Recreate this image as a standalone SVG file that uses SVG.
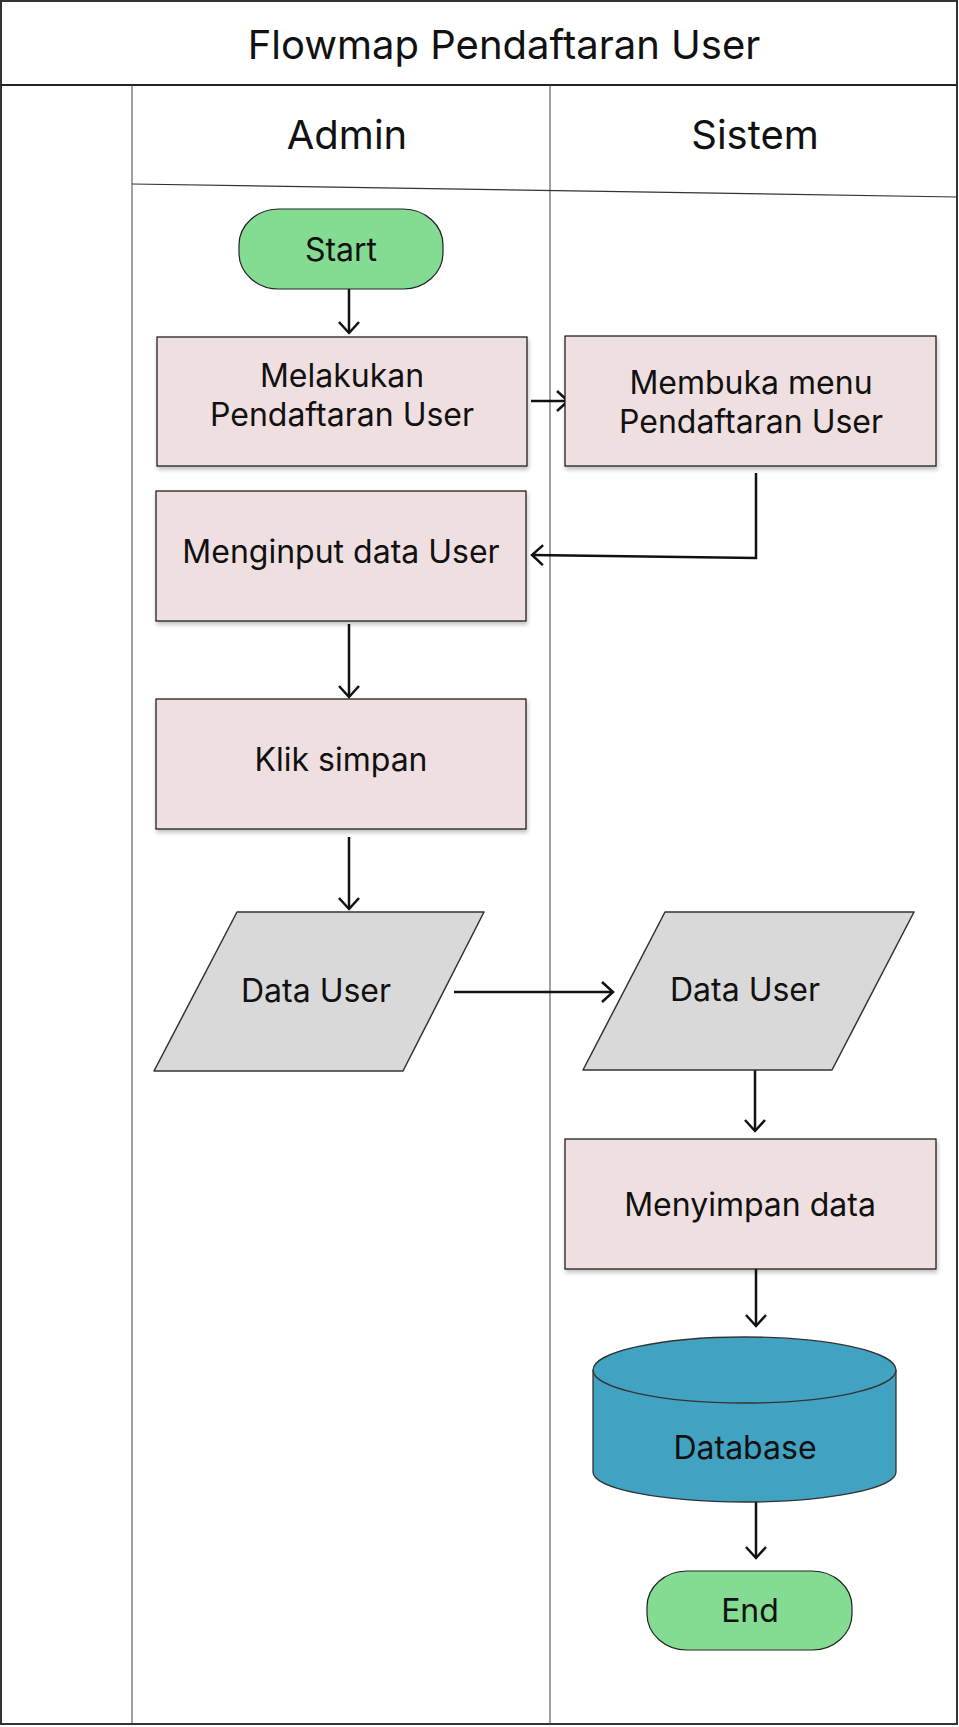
<svg xmlns="http://www.w3.org/2000/svg" width="959" height="1727" viewBox="0 0 959 1727">
<style>
.t{font-family:Inter,"Liberation Sans",sans-serif;fill:#111;text-anchor:middle}
.b{font-size:32px}
.h{font-size:40px}
.proc{fill:#efdfe0;stroke:#111;stroke-width:1.2}
.term{fill:#84dc92;stroke:#222;stroke-width:1.2}
.io{fill:#d9d9d9;stroke:#333;stroke-width:1.5;stroke-linejoin:round}
.db{fill:#42a2c2;stroke:#333;stroke-width:1.3}
.c{fill:none;stroke:#111;stroke-width:2.5}
.ln{stroke:#444;stroke-width:1;fill:none}
</style>
<defs>
<marker id="arr" viewBox="0 0 24 24" refX="13" refY="12" markerWidth="24" markerHeight="24" markerUnits="userSpaceOnUse" orient="auto">
<path d="M2,2 L13,12 L2,22" fill="none" stroke="#111" stroke-width="2.5"/>
</marker>
<filter id="sh" x="-5%" y="-5%" width="115%" height="120%">
<feDropShadow dx="1" dy="3" stdDeviation="2" flood-color="#000" flood-opacity="0.25"/>
</filter>
</defs>
<rect width="959" height="1727" fill="#fff"/>
<g id="frame">
<rect x="1" y="1" width="956" height="1723" fill="none" stroke="#333" stroke-width="2"/>
<line x1="1" y1="85" x2="957" y2="85" stroke="#222" stroke-width="2"/>
<line class="ln" x1="132" y1="85" x2="132" y2="1724"/>
<line class="ln" x1="550" y1="85" x2="550" y2="1724"/>
<line x1="132" y1="184" x2="957" y2="197" stroke="#333" stroke-width="1.2"/>
<text class="t h" x="504" y="59">Flowmap Pendaftaran User</text>
<text class="t h" x="347" y="149">Admin</text>
<text class="t h" x="755" y="149">Sistem</text>
</g>
<g id="connectors">
<line class="c" x1="349" y1="289" x2="349" y2="333" marker-end="url(#arr)"/>
<line class="c" x1="531" y1="401" x2="568" y2="401" marker-end="url(#arr)"/>
<path class="c" d="M756,473 L756,558 L532,555" marker-end="url(#arr)"/>
<line class="c" x1="349" y1="624" x2="349" y2="697" marker-end="url(#arr)"/>
<line class="c" x1="349" y1="837" x2="349" y2="909" marker-end="url(#arr)"/>
<line class="c" x1="454" y1="992" x2="613" y2="992" marker-end="url(#arr)"/>
<line class="c" x1="755" y1="1068" x2="755" y2="1131" marker-end="url(#arr)"/>
<line class="c" x1="756" y1="1269" x2="756" y2="1326" marker-end="url(#arr)"/>
<line class="c" x1="756" y1="1502" x2="756" y2="1558" marker-end="url(#arr)"/>
</g>
<g id="start">
<rect class="term" x="239" y="209" width="204" height="80" rx="40" ry="36"/>
<text class="t b" x="341" y="261">Start</text>
</g>
<g id="melakukan">
<rect class="proc" x="157" y="337" width="370" height="129" filter="url(#sh)"/>
<text class="t b" x="342" y="387">Melakukan</text>
<text class="t b" x="342" y="426">Pendaftaran User</text>
</g>
<g id="membuka">
<rect class="proc" x="565" y="336" width="371" height="130" filter="url(#sh)"/>
<text class="t b" x="751" y="394">Membuka menu</text>
<text class="t b" x="751" y="433">Pendaftaran User</text>
</g>
<g id="menginput">
<rect class="proc" x="156" y="491" width="370" height="130" filter="url(#sh)"/>
<text class="t b" x="341" y="563">Menginput data User</text>
</g>
<g id="klik">
<rect class="proc" x="156" y="699" width="370" height="130" filter="url(#sh)"/>
<text class="t b" x="341" y="771">Klik simpan</text>
</g>
<g id="datauser-admin">
<path class="io" d="M237,912 L484,912 L403,1071 L154,1071 Z"/>
<text class="t b" x="316" y="1002">Data User</text>
</g>
<g id="datauser-sistem">
<path class="io" d="M665,912 L914,912 L832,1070 L583,1070 Z"/>
<text class="t b" x="745" y="1001">Data User</text>
</g>
<g id="menyimpan">
<rect class="proc" x="565" y="1139" width="371" height="130" filter="url(#sh)"/>
<text class="t b" x="750" y="1216">Menyimpan data</text>
</g>
<g id="database">
<path class="db" d="M593,1370 A151.5,33 0 0 1 896,1370 L896,1472 A151.5,30 0 0 1 593,1472 Z"/>
<path d="M593,1370 A151.5,33 0 0 0 896,1370" fill="none" stroke="#333" stroke-width="1.3"/>
<text class="t b" x="745" y="1459">Database</text>
</g>
<g id="end">
<rect class="term" x="647" y="1571" width="205" height="79" rx="40" ry="36"/>
<text class="t b" x="750" y="1622">End</text>
</g>
</svg>
